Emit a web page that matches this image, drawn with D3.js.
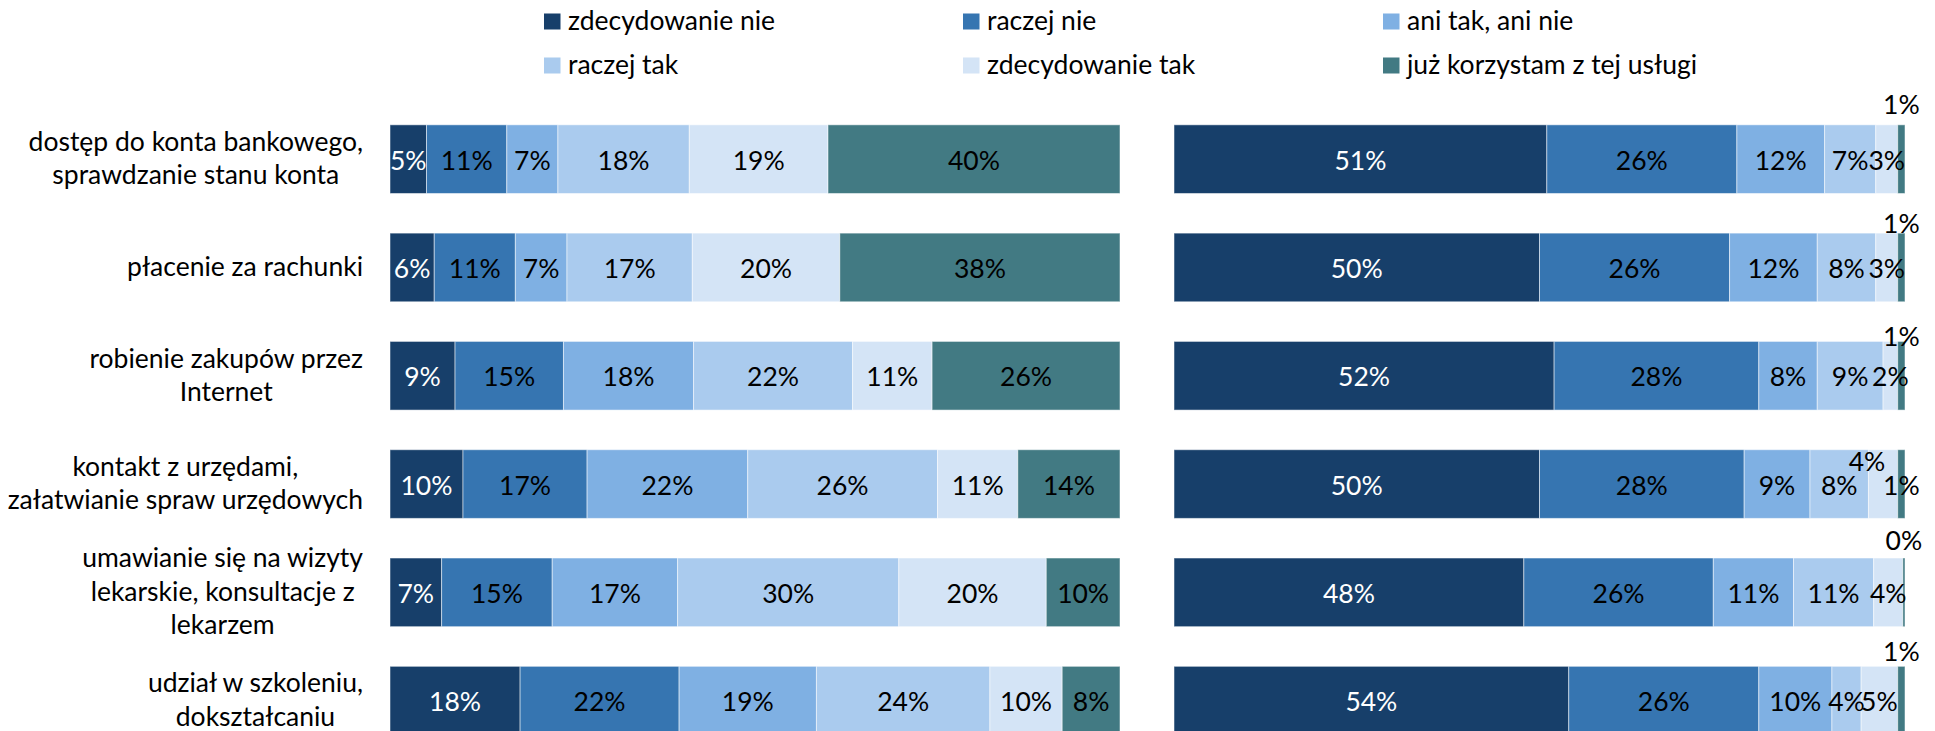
<!DOCTYPE html>
<html>
<head>
<meta charset="utf-8">
<script src="https://cdn.jsdelivr.net/npm/d3@7"></script>
<style>
    body { margin: 0; background: #fff; }
    text { font-family: Lato, "Noto Sans", sans-serif; }
</style>
</head>
<body>
<div id="chart"></div>
<script>
// Row labels (top to bottom), "\n" marks a line break
const categories = [
    "dostęp do konta bankowego,\nsprawdzanie stanu konta",
    "płacenie za rachunki",
    "robienie zakupów przez\nInternet",
    "kontakt z urzędami,\nzałatwianie spraw urzędowych",
    "umawianie się na wizyty\nlekarskie, konsultacje z\nlekarzem",
    "udział w szkoleniu,\ndokształcaniu"
];

const seriesNames = ["zdecydowanie nie", "raczej nie", "ani tak, ani nie",
    "raczej tak", "zdecydowanie tak", "już korzystam z tej usługi"];

// Left panel, one array per series, values per row
const leftSeries = [
    [5, 6, 9, 10, 7, 18],       // zdecydowanie nie
    [11, 11, 15, 17, 15, 22],   // raczej nie
    [7, 7, 18, 22, 17, 19],     // ani tak, ani nie
    [18, 17, 22, 26, 30, 24],   // raczej tak
    [19, 20, 11, 11, 20, 10],   // zdecydowanie tak
    [40, 38, 26, 14, 10, 8]     // już korzystam
];

// Right panel
const rightSeries = [
    [51, 50, 52, 50, 48, 54],
    [26, 26, 28, 28, 26, 26],
    [12, 12, 8, 9, 11, 10],
    [7, 8, 9, 8, 11, 4],
    [3, 3, 2, 4, 4, 5],
    [1, 1, 1, 1, 0.3, 1]
];

const seriesColors = ["#173f6a", "#3675b1", "#7fb0e3", "#aacbee", "#d4e4f6", "#427a83"];
const labelColors = ["#fff", "#000", "#000", "#000", "#000", "#000"];

// labels that were moved by hand in the right panel (row, series, shift)
const rightLabelNudges = [
    { row: 0, series: 5, dx: 0, dy: -56 },
    { row: 1, series: 5, dx: 0, dy: -45 },
    { row: 2, series: 5, dx: 0, dy: -40 },
    { row: 3, series: 4, dx: -16, dy: -24 },
    { row: 4, series: 5, dx: 0, dy: -53 },
    { row: 5, series: 5, dx: 0, dy: -50 }
];

const width = 1935, height = 731;
const fontSize = 26.5;
const fmt = d3.format(".0f");

const svg = d3.select("#chart").append("svg")
    .attr("width", width)
    .attr("height", height);

const y = d3.scaleBand()
    .domain(d3.range(categories.length))
    .range([105, 105 + 6 * 108.3])
    .paddingInner(0.366)
    .paddingOuter(0.183);

function drawPanel(series, x0, x1, nudges) {
    const rows = categories.map((c, i) => ({ row: i, values: series.map(s => s[i]) }));
    const stacked = d3.stack()
        .keys(d3.range(series.length))
        .value((d, k) => d.values[k])
        .offset(d3.stackOffsetExpand)(rows);

    const x = d3.scaleLinear().domain([0, 1]).range([x0, x1]);

    const g = svg.append("g");
    const layer = g.selectAll("g.layer")
        .data(stacked)
        .join("g")
        .attr("class", "layer")
        .attr("fill", d => seriesColors[d.key]);

    layer.selectAll("rect")
        .data(d => d)
        .join("rect")
        .attr("x", d => x(d[0]))
        .attr("y", d => y(d.data.row))
        .attr("width", d => x(d[1]) - x(d[0]))
        .attr("height", y.bandwidth())
        .attr("stroke", "#fff")
        .attr("stroke-opacity", 0.5)
        .attr("stroke-width", 1);

    // value labels
    stacked.forEach(s => {
        s.forEach(d => {
            const n = nudges.find(v => v.row === d.data.row && v.series === s.key) || { dx: 0, dy: 0 };
            g.append("text")
                .attr("x", (x(d[0]) + x(d[1])) / 2 + n.dx)
                .attr("y", y(d.data.row) + y.bandwidth() / 2 + 10.5 + n.dy)
                .attr("text-anchor", "middle")
                .attr("font-size", fontSize)
                .attr("fill", n.dy !== 0 ? "#000" : labelColors[s.key])
                .text(fmt(d.data.values[s.key]) + "%");
        });
    });
}

drawPanel(leftSeries, 390, 1120, []);
drawPanel(rightSeries, 1174, 1905, rightLabelNudges);

// category labels: centred lines, block right-aligned
const labelRight = 363, lineHeight = 33.4;
categories.forEach((c, i) => {
    const lines = c.split("\n");
    const grp = svg.append("g");
    const texts = lines.map((line, j) => grp.append("text")
        .attr("y", y(i) + y.bandwidth() / 2 + (j - (lines.length - 1) / 2) * lineHeight + 8.5)
        .attr("text-anchor", "middle")
        .attr("font-size", fontSize)
        .attr("fill", "#000")
        .text(line));
    const maxW = d3.max(texts, t => t.node().getComputedTextLength());
    texts.forEach(t => t.attr("x", labelRight - maxW / 2));
});

// legend, 3 columns x 2 rows
const legendX = [544, 963, 1383], legendY = [13.5, 57.5];
const legend = svg.append("g");
seriesNames.forEach((name, i) => {
    const lx = legendX[i % 3], ly = legendY[Math.floor(i / 3)];
    legend.append("rect")
        .attr("x", lx)
        .attr("y", ly)
        .attr("width", 16.5)
        .attr("height", 16)
        .attr("fill", seriesColors[i]);
    legend.append("text")
        .attr("x", lx + 24)
        .attr("y", ly + 16)
        .attr("font-size", fontSize)
        .attr("fill", "#000")
        .text(name);
});
</script>
</body>
</html>
